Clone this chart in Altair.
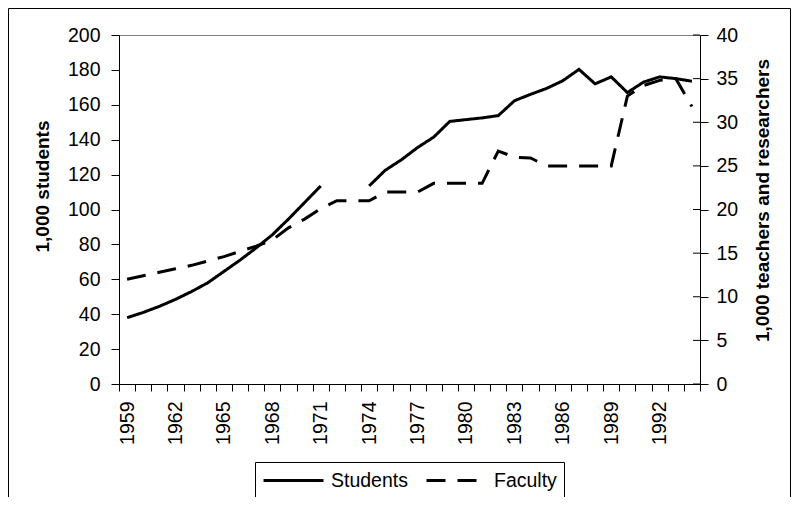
import altair as alt
import pandas as pd

# ---- data ----
years = list(range(1959, 1995))
students = [38, 41, 44.5, 48.5, 53, 58, 64.5, 71, 78, 85.5, 94.5, 104, 113.5,
            None, None,
            113.5, 122.5, 128.5, 135.5, 141.5, 150.5, 151.5, 152.5, 153.8, 162.3,
            166, 169.4, 173.8, 180.3, 172, 176, 167, 173, 176, 175, 173.5]
faculty = [12, 12.4, 12.8, 13.2, 13.6, 14.1, 14.6, 15.2, 15.8, 16.5, 17.9, 18.9, 20.1,
           21, 21, 21, 22, 22, 22, 23, 23, 23, 23, 26.7, 26, 25.9,
           25, 25, 25, 25, 25, 33, 34.2, 34.8, 35, 31.8]
series = ["Students", "Faculty"]
left_ticks = list(range(0, 201, 20))
right_ticks = list(range(0, 41, 5))

df = pd.DataFrame({"year": years, "students": students, "faculty": faculty})

FONT = "Liberation Sans"
W, H = 581, 349

dash_scale = alt.Scale(domain=series, range=[[1, 0], [19, 12]])

x_enc = alt.X(
    "year:O",
    bandPosition=0.5,
    scale=alt.Scale(type="band", paddingInner=0, paddingOuter=0),
    axis=alt.Axis(
        title=None,
        tickBand="extent",
        labelExpr="(datum.value - 1959) % 3 == 0 ? '' + datum.value : ''",
        labelAngle=270,
        labelPadding=10,
        tickSize=7,
        labelOverlap=False,
        labelBound=False,
        labelFontSize=19.5,
    ),
)

legend = alt.Legend(
    orient="none", legendX=136, legendY=427, direction="horizontal", title=None,
    strokeColor="black", padding=7, symbolType="M-1,0H5", symbolSize=400,
    symbolStrokeWidth=3, symbolStrokeColor="black", symbolFillColor="transparent",
    labelFontSize=19.5, labelFont=FONT, labelColor="black", labelOffset=46,
    columnPadding=12,
)

border = alt.Chart(alt.Data(values=[{"a": 1}])).mark_rect(
    filled=False, stroke="black", strokeWidth=1
).encode(
    x=alt.value(-110.5), x2=alt.value(671.5),
    y=alt.value(-26.5), y2=alt.value(H + 200),
)

students_line = alt.Chart(df).transform_calculate(series="'Students'").mark_line(
    color="black", strokeWidth=3, invalid="break-paths-show-domains"
).encode(
    x=x_enc,
    y=alt.Y(
        "students:Q",
        scale=alt.Scale(domain=[0, 200], nice=False),
        axis=alt.Axis(
            orient="left", values=left_ticks, title="1,000 students",
            titleFontSize=19, titleFontWeight="bold", titleAngle=270,
            titleX=-76.5, titleY=151, titleBaseline="middle", titleAlign="center",
            tickSize=8, labelPadding=11, labelFontSize=19.5, grid=False,
        ),
    ),
    strokeDash=alt.StrokeDash("series:N", scale=dash_scale, legend=legend),
)

faculty_line = alt.Chart(df).transform_calculate(series="'Faculty'").mark_line(
    color="black", strokeWidth=3, invalid="break-paths-show-domains"
).encode(
    x=x_enc,
    y=alt.Y(
        "faculty:Q",
        scale=alt.Scale(domain=[0, 40], nice=False),
        axis=alt.Axis(
            orient="right", values=right_ticks, title="1,000 teachers and researchers",
            titleFontSize=19, titleFontWeight="bold", titleAngle=270,
            titleX=62, titleY=165, titleBaseline="middle", titleAlign="center",
            tickSize=8, labelPadding=8, labelFontSize=19.5, grid=False,
        ),
    ),
    strokeDash=alt.StrokeDash("series:N", scale=dash_scale, legend=legend),
)

inner_ticks = alt.Chart(pd.DataFrame({"v": right_ticks})).mark_rule(
    color="black", strokeWidth=1
).encode(
    y=alt.Y("v:Q", scale=alt.Scale(domain=[0, 40], nice=False), axis=None),
    x=alt.value(W - 7), x2=alt.value(W),
)

chart = alt.layer(border, students_line, faculty_line, inner_ticks).resolve_scale(
    y="independent", strokeDash="shared"
).properties(
    width=W, height=H,
    autosize=alt.AutoSizeParams(type="none"),
    padding={"left": 111, "top": 27, "right": 91, "bottom": 113},
    background="white",
).configure_view(
    stroke="#808080", strokeWidth=1
).configure_axis(
    domainColor="black", tickColor="black", labelColor="black", titleColor="black",
    labelFont=FONT, titleFont=FONT, domainWidth=1, tickWidth=1,
)

chart.save("out.html", embed_options={"renderer": "svg", "actions": False})
